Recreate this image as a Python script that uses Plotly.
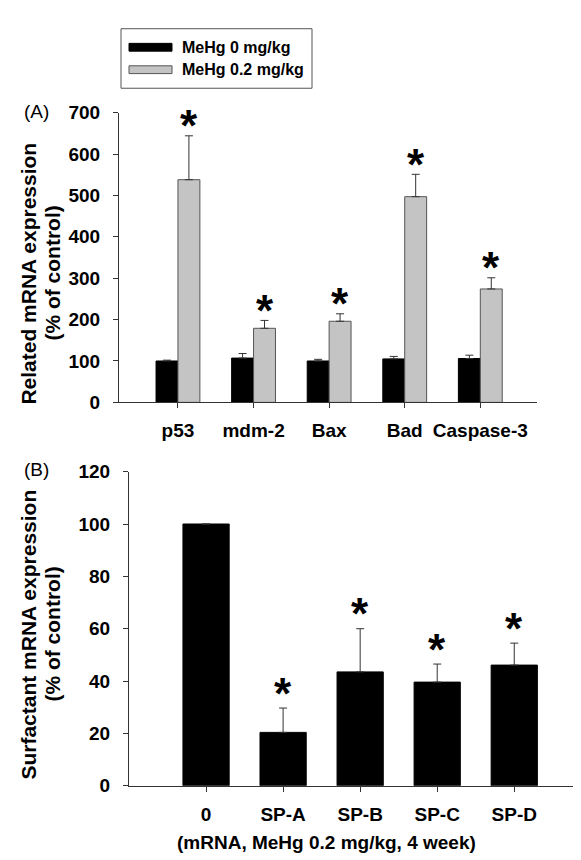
import plotly.graph_objects as go

# ---- Panel A data ----
genes = ["p53", "mdm-2", "Bax", "Bad", "Caspase-3"]
ctrl_mean = [100, 107, 100, 105, 106]
ctrl_err = [2, 11, 4, 6, 8]
mehg_mean = [538, 179, 196, 497, 274]
mehg_err = [106, 19, 18, 54, 27]
sig_a = [True, True, True, True, True]

# ---- Panel B data ----
sp_labels = ["0", "SP-A", "SP-B", "SP-C", "SP-D"]
sp_mean = [100, 20.4, 43.5, 39.6, 46.1]
sp_err = [None, 9.3, 16.5, 6.9, 8.4]
sig_b = [False, True, True, True, True]

legend_names = ["MeHg 0 mg/kg", "MeHg 0.2 mg/kg"]
ytitle_a = ["Related mRNA expression", "(% of control)"]
ytitle_b = ["Surfactant mRNA expression", "(% of control)"]
xtitle_b = "(mRNA, MeHg 0.2 mg/kg, 4 week)"

FONT = "Liberation Sans, Arial, sans-serif"
W, H = 581, 860
GRAY = "#c4c4c4"
AX = "#333333"


def px(x):
    return x / W


def py(y):
    return 1 - y / H


fig = go.Figure()

fig.add_trace(go.Bar(
    x=genes, y=ctrl_mean, name=legend_names[0], marker=dict(color="black", line=dict(color="black", width=1)),
    error_y=dict(type="data", symmetric=False, array=ctrl_err, arrayminus=[0] * 5, color="#333", thickness=1, width=4),
    xaxis="x", yaxis="y", showlegend=False))
fig.add_trace(go.Bar(
    x=genes, y=mehg_mean, name=legend_names[1], marker=dict(color=GRAY, line=dict(color="#555", width=1)),
    error_y=dict(type="data", symmetric=False, array=mehg_err, arrayminus=[0] * 5, color="#333", thickness=1, width=4),
    xaxis="x", yaxis="y", showlegend=False))

fig.add_trace(go.Bar(
    x=sp_labels, y=sp_mean, name="Surfactant", marker=dict(color="black", line=dict(color="black", width=1)),
    error_y=dict(type="data", symmetric=False, array=sp_err, arrayminus=[0] * 5, color="#333", thickness=1, width=4),
    width=0.6, xaxis="x2", yaxis="y2", showlegend=False))

tickfont = dict(family=FONT, size=19, color="black", weight="bold")
ytitlefont = dict(family=FONT, size=21, color="black", weight="bold")
xtitlefont = dict(family=FONT, size=19, color="black", weight="bold")

common_axis = dict(showline=True, linecolor=AX, linewidth=1, ticks="outside", tickcolor=AX,
                   ticklen=5, showgrid=False, zeroline=False, tickfont=tickfont)

fig.update_layout(
    width=W, height=H, margin=dict(l=0, r=0, t=0, b=0),
    paper_bgcolor="white", plot_bgcolor="white",
    barmode="group", bargap=0.42, bargroupgap=0,
    xaxis=dict(domain=[px(111), px(529)], range=[-0.78, 4.75], anchor="y", ticklabelstandoff=6, **common_axis),
    yaxis=dict(domain=[py(394), py(97)], range=[0, 700], dtick=100, anchor="x", ticklabelstandoff=9,
               **common_axis),
    xaxis2=dict(domain=[px(121), 1.0], range=[-1.0, 4.97], anchor="y2", ticklabelstandoff=6, **common_axis),
    yaxis2=dict(domain=[py(787), py(465)], range=[0, 120], dtick=20, anchor="x2", ticklabelstandoff=9,
                **common_axis),
)

starfont = dict(family=FONT, size=44, color="black", weight="bold")
annotations = []
# significance asterisks, panel A (above the MeHg bars)
for g, m, e, s in zip(genes, mehg_mean, mehg_err, sig_a):
    if s:
        annotations.append(dict(x=g, y=m + e, xref="x", yref="y", text="*", showarrow=False,
                                xshift=11, yshift=10, yanchor="middle", font=starfont))
for g, m, e, s in zip(sp_labels, sp_mean, sp_err, sig_b):
    if s:
        annotations.append(dict(x=g, y=m + e, xref="x2", yref="y2", text="*", showarrow=False,
                                yshift=15, yanchor="middle", font=starfont))


def ytitle(lines, xs, yc):
    out = []
    for t, xx in zip(lines, xs):
        out.append(dict(x=px(xx), y=py(yc), xref="paper", yref="paper", text=t, showarrow=False,
                        textangle=-90, xanchor="center", yanchor="middle", font=ytitlefont))
    return out


annotations += ytitle(ytitle_a, [21, 45], 262)
annotations += ytitle(ytitle_b, [21, 45], 632)

annotations += [
    dict(x=px(14), y=py(96), xref="paper", yref="paper", text="(A)", showarrow=False,
         xanchor="left", yanchor="middle", font=dict(family=FONT, size=19, color="black")),
    dict(x=px(14), y=py(463), xref="paper", yref="paper", text="(B)", showarrow=False,
         xanchor="left", yanchor="middle", font=dict(family=FONT, size=19, color="black")),
    dict(x=px(318), y=py(845), xref="paper", yref="paper", text=xtitle_b,
         showarrow=False, xanchor="center", yanchor="middle", font=xtitlefont),
    dict(x=px(172), y=py(30), xref="paper", yref="paper", text=legend_names[0], showarrow=False,
         xanchor="left", yanchor="middle", font=dict(family=FONT, size=16, color="black", weight="bold")),
    dict(x=px(172), y=py(53), xref="paper", yref="paper", text=legend_names[1], showarrow=False,
         xanchor="left", yanchor="middle", font=dict(family=FONT, size=16, color="black", weight="bold")),
]
fig.update_layout(annotations=annotations)

shapes = [
    dict(type="rect", xref="paper", yref="paper", x0=px(113), x1=px(304), y0=py(72), y1=py(11),
         line=dict(color="#555", width=1), fillcolor="rgba(0,0,0,0)"),
    dict(type="rect", xref="paper", yref="paper", x0=px(121), x1=px(164), y0=py(34), y1=py(26),
         line=dict(color="black", width=1), fillcolor="black"),
    dict(type="rect", xref="paper", yref="paper", x0=px(121), x1=px(164), y0=py(57), y1=py(49),
         line=dict(color="#555", width=1), fillcolor=GRAY),
]
fig.update_layout(shapes=shapes)

fig.write_html("out.html")
